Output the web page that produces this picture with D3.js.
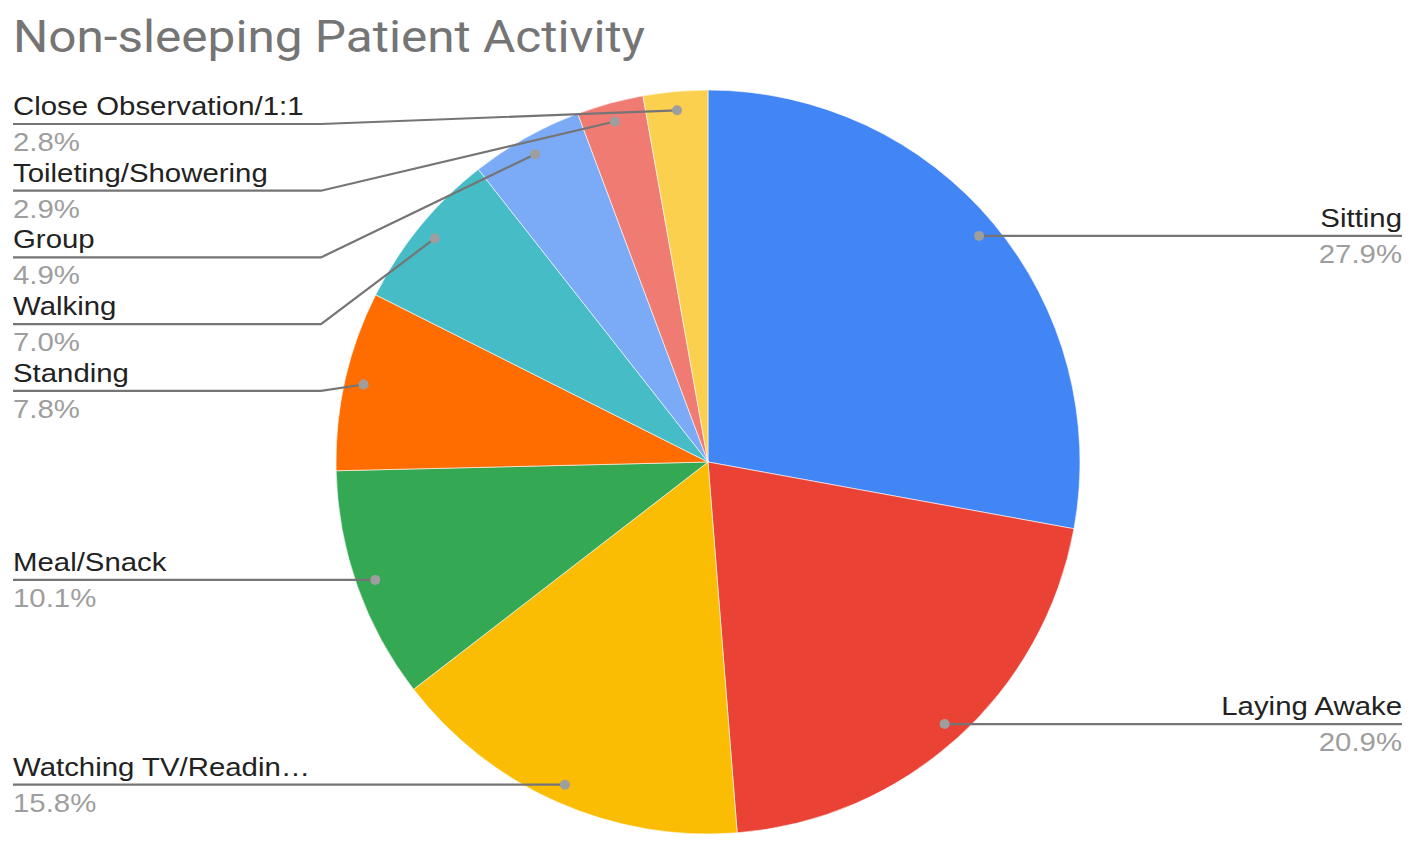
<!DOCTYPE html>
<html>
<head>
<meta charset="utf-8">
<script src="https://cdn.jsdelivr.net/npm/d3@7"></script>
<style>
  body { margin: 0; background: #fff; }
</style>
</head>
<body>
<div id="chart"></div>
<script>
// Chart data
var categories = ["Sitting", "Laying Awake", "Watching TV/Readin\u2026", "Meal/Snack", "Standing",
  "Walking", "Group", "Toileting/Showering", "Close Observation/1:1"];
var shares = [27.9, 20.9, 15.8, 10.1, 7.8, 7.0, 4.9, 2.9, 2.8];
var colors = ["#4285f4", "#ea4335", "#fbbc04", "#34a853", "#ff6d01",
  "#46bdc6", "#7baaf7", "#f07b72", "#fcd04f"];

var svgWidth = 1421;
var svgHeight = 849;

var cx = 708, cy = 462, radius = 372;
var dotRadius = radius * 0.949;
var leftX = 13, rightX = 1402;
var elbowLeft = 321, elbowRight = 1095;
var labelGap = 66.7, topLimit = 124;
// text in the picture is a bit wider than the font draws it
var stretch = 1.13;

var svg = d3.select("#chart")
  .append("svg")
  .attr("width", svgWidth)
  .attr("height", svgHeight);

// title
svg.append("text")
  .attr("transform", `translate(13, 52) scale(1.1, 1)`)
  .attr("font-family", "Roboto, sans-serif")
  .attr("font-size", "45px")
  .attr("fill", "#757575")
  .text("Non-sleeping Patient Activity");

var data = categories.map(function(c, i) {
  return { name: c, value: shares[i], color: colors[i] };
});

var pie = d3.pie()
  .sort(null)
  .value(d => d.value);

var arcs = pie(data);

var arc = d3.arc()
  .innerRadius(0)
  .outerRadius(radius);

var dotArc = d3.arc()
  .innerRadius(dotRadius)
  .outerRadius(dotRadius);

var pieGroup = svg.append("g")
  .attr("transform", `translate(${cx}, ${cy})`);

pieGroup.selectAll("path")
  .data(arcs)
  .enter()
  .append("path")
  .attr("d", arc)
  .attr("fill", d => d.data.color)
  .attr("stroke", "#fff")
  .attr("stroke-width", 0.6);

// label positions
arcs.forEach(function(d) {
  var c = dotArc.centroid(d);
  d.dotX = cx + c[0];
  d.dotY = cy + c[1];
  d.left = (d.startAngle + d.endAngle) / 2 > Math.PI;
});

var leftArcs = arcs.filter(d => d.left).sort((a, b) => a.dotY - b.dotY);
var rightArcs = arcs.filter(d => !d.left).sort((a, b) => a.dotY - b.dotY);

function stack(list) {
  var prev = topLimit - labelGap;
  list.forEach(function(d) {
    d.lineY = Math.max(d.dotY, prev + labelGap);
    prev = d.lineY;
  });
}
stack(leftArcs);
stack(rightArcs);

var labelGroup = svg.append("g");

arcs.forEach(function(d) {
  var x0 = d.left ? leftX : rightX;
  var xe = d.left ? elbowLeft : elbowRight;
  var pts = [[x0, d.lineY]];
  if (Math.abs(d.lineY - d.dotY) > 1) pts.push([xe, d.lineY]);
  pts.push([d.dotX, d.dotY]);

  labelGroup.append("path")
    .attr("d", d3.line()(pts))
    .attr("fill", "none")
    .attr("stroke", "#757575")
    .attr("stroke-width", 2.2);

  labelGroup.append("circle")
    .attr("cx", d.dotX)
    .attr("cy", d.dotY)
    .attr("r", 5)
    .attr("fill", "#9e9e9e");

  labelGroup.append("text")
    .attr("transform", `translate(${x0}, ${d.lineY - 9}) scale(${stretch}, 1)`)
    .attr("text-anchor", d.left ? "start" : "end")
    .attr("font-family", "'Liberation Sans', Arial, sans-serif")
    .attr("font-size", "26px")
    .attr("fill", "#222")
    .text(d.data.name);

  labelGroup.append("text")
    .attr("transform", `translate(${x0}, ${d.lineY + 27}) scale(${stretch}, 1)`)
    .attr("text-anchor", d.left ? "start" : "end")
    .attr("font-family", "'Liberation Sans', Arial, sans-serif")
    .attr("font-size", "26px")
    .attr("fill", "#9e9e9e")
    .text(d.data.value.toFixed(1) + "%");
});
</script>
</body>
</html>
